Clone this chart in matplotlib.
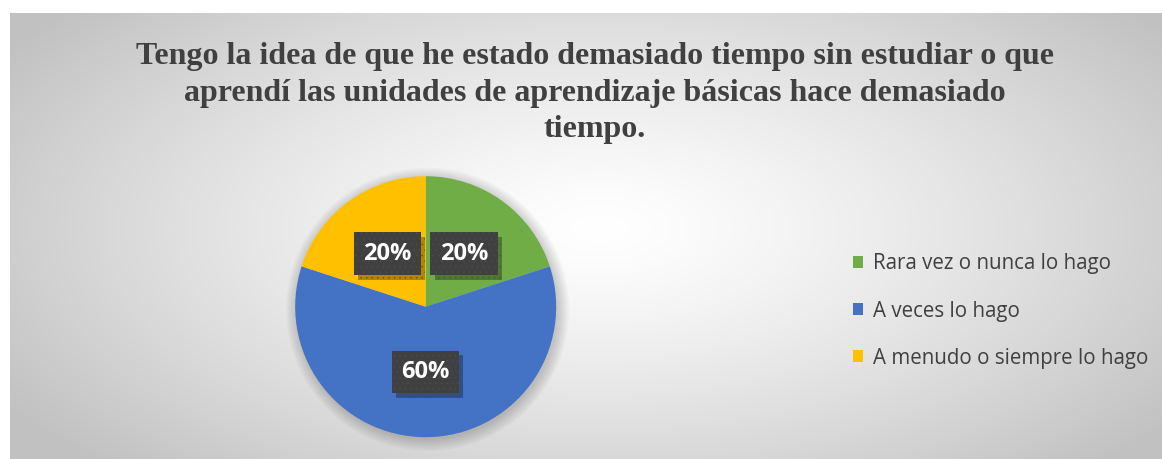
import numpy as np
import matplotlib
matplotlib.use("Agg")
import matplotlib.pyplot as plt
from matplotlib.patches import Circle
from matplotlib import patheffects as pe

title = ("Tengo la idea de que he estado demasiado tiempo sin estudiar o que\n"
         "aprendí las unidades de aprendizaje básicas hace demasiado\n"
         "tiempo.")
categories = ["Rara vez o nunca lo hago", "A veces lo hago", "A menudo o siempre lo hago"]
values = [20, 60, 20]
colors = ["#70AD47", "#4472C4", "#FFC000"]

W, H = 1162, 459
fig = plt.figure(figsize=(W / 100, H / 100), dpi=100)
fig.patch.set_facecolor("white")
plt.rcParams["hatch.linewidth"] = 0.3

# chart area with radial gradient
bg = fig.add_axes([10 / W, 0, 1152 / W, 446 / H])
bg.set_axis_off()
yy, xx = np.mgrid[0:446, 0:1152]
d = np.sqrt(((xx - 590) / 700.0) ** 2 + ((yy - 215) / 330.0) ** 2)
g = np.clip(1.0 - 0.24 * d ** 1.3, 0.76, 1.0)
bg.imshow(np.dstack([g, g, g]), aspect="auto", extent=[0, 1, 0, 1], origin="upper")
bg.set_xlim(0, 1)
bg.set_ylim(0, 1)

# pie
cx, cy, r = 425.7, H - 306.7, 130.5
ax = fig.add_axes([(cx - r) / W, (cy - r) / H, 2 * r / W, 2 * r / H])
for k in range(8):
    ax.add_patch(Circle((0.015, -0.02), 1.0 + 0.012 * k, color="black",
                        alpha=0.025, lw=0, zorder=0, clip_on=False))

wedges, _, autotexts = ax.pie(values, colors=colors, startangle=90, counterclock=False,
                              autopct="%1.0f%%", pctdistance=0.5, radius=1.0,
                              textprops=dict(color="white", fontsize=17, fontweight="bold",
                                             family="Open Sans"))
ax.set_xlim(-1, 1)
ax.set_ylim(-1, 1)
ax.set_aspect("equal")
ax.set_axis_off()

for t in autotexts:
    t.set_bbox(dict(boxstyle="square,pad=0.4", fc="#404040", ec="#4e4e4e",
                    lw=0, hatch="..."))
    t.get_bbox_patch().set_path_effects(
        [pe.SimplePatchShadow(offset=(3, -3), shadow_rgbFace="black", alpha=0.3), pe.Normal()])

# title
fig.text(595 / W, 1 - 42 / H, title, ha="center", va="top", fontsize=23,
         fontweight="bold", family="Liberation Serif", color="#404040", linespacing=1.35)

leg = fig.legend(wedges, categories, loc="center left", bbox_to_anchor=(834 / W, 1 - 311 / H),
                 frameon=False, handlelength=0.5, handleheight=0.5,
                 handletextpad=0.5, labelspacing=1.27, prop=dict(family="Open Sans", size=14.8))
for t in leg.get_texts():
    t.set_color("#404040")

fig.savefig("out.png", dpi=100)
